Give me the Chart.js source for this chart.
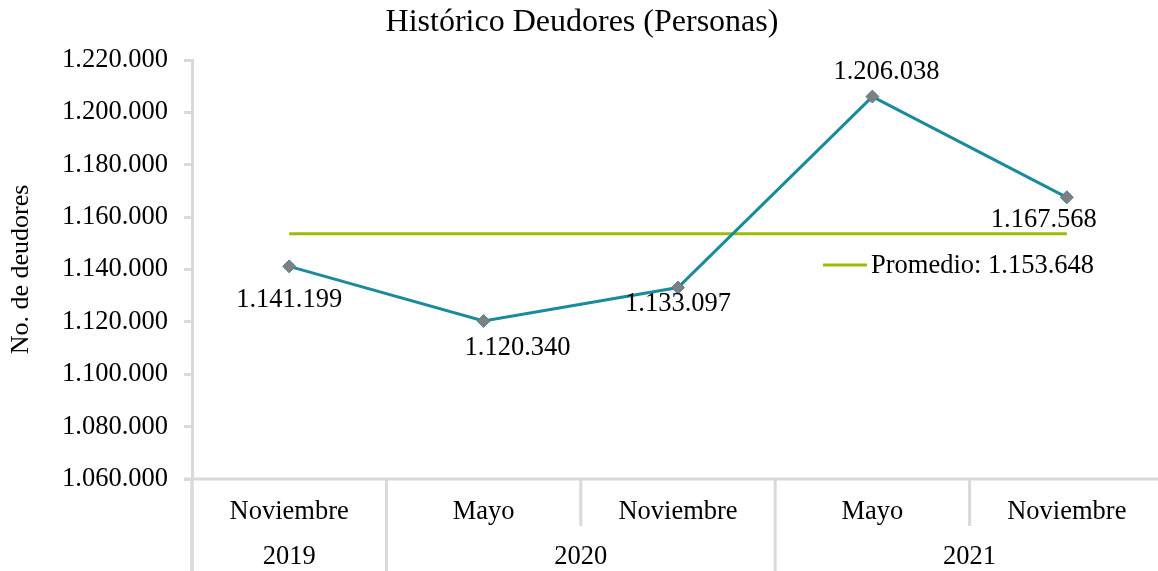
<!DOCTYPE html>
<html>
<head>
<meta charset="utf-8">
<script src="https://cdn.jsdelivr.net/npm/chart.js@4"></script>
<style>
  html, body { margin: 0; padding: 0; background: #fff; }
  #wrap { width: 1158px; height: 571px; }
</style>
</head>
<body>
<div id="wrap"><canvas id="c"></canvas></div>
<script>
// data
const months = ['Noviembre', 'Mayo', 'Noviembre', 'Mayo', 'Noviembre'];
const years = ['2019', '2020', '2021'];
const yearSpans = [1, 2, 2];
const deudores = [1141199, 1120340, 1133097, 1206038, 1167568];
const promedio = 1153648;
const promedioLine = deudores.map(() => promedio);

// label nudges (px) so the value labels sit where they do in the original
const labelOffsets = [[0, 34], [34, 27], [0, 16], [14, -25], [-23, 23]];

const FONT = '"Liberation Serif", "Times New Roman", serif';
const AXIS_GREY = '#d9d9d9';
const TITLE = 'Histórico Deudores (Personas)';
// the original plot runs a few px past the right edge of the image
const PLOT_RIGHT = 1164;

function fmt(v) {
  return String(Math.round(v)).replace(/\B(?=(\d{3})+(?!\d))/g, '.');
}

const widenPlot = {
  id: 'widenPlot',
  afterLayout(chart) {
    const x = chart.scales.x;
    x.right = PLOT_RIGHT;
    x.width = x.right - x.left;
    x.configure();
    chart.chartArea.right = PLOT_RIGHT;
    chart.chartArea.width = PLOT_RIGHT - chart.chartArea.left;
  }
};

const extras = {
  id: 'extras',
  afterDraw(chart) {
    const ctx = chart.ctx;
    const x = chart.scales.x;
    const area = chart.chartArea;
    const H = chart.height;
    ctx.save();

    // title
    ctx.fillStyle = '#000';
    ctx.textAlign = 'center';
    ctx.textBaseline = 'middle';
    ctx.font = '32px ' + FONT;
    ctx.fillText(TITLE, 582, 23);

    // y axis line continues down through the category rows
    ctx.strokeStyle = AXIS_GREY;
    ctx.lineWidth = 3;
    ctx.beginPath();
    ctx.moveTo(area.left, area.bottom);
    ctx.lineTo(area.left, H);
    ctx.stroke();

    // category axis: base line and separators
    ctx.beginPath();
    ctx.moveTo(area.left - 8, area.bottom);
    ctx.lineTo(area.right, area.bottom);
    ctx.stroke();

    const yearBounds = [0];
    yearSpans.reduce((acc, n) => { acc += n; yearBounds.push(acc); return acc; }, 0);
    for (let i = 0; i <= months.length; i++) {
      const px = x.getPixelForValue(i - 0.5);
      const full = yearBounds.includes(i);
      ctx.beginPath();
      ctx.moveTo(px, area.bottom);
      ctx.lineTo(px, full ? H : area.bottom + 47);
      ctx.stroke();
    }

    // labels
    ctx.font = '26.5px ' + FONT;
    months.forEach((m, i) => {
      ctx.fillText(m, x.getPixelForValue(i), area.bottom + 33);
    });
    let start = 0;
    years.forEach((y, i) => {
      const a = x.getPixelForValue(start - 0.5);
      const b = x.getPixelForValue(start + yearSpans[i] - 0.5);
      ctx.fillText(y, (a + b) / 2, area.bottom + 78);
      start += yearSpans[i];
    });

    // value labels
    const meta = chart.getDatasetMeta(0);
    meta.data.forEach((pt, i) => {
      const o = labelOffsets[i];
      ctx.fillText(fmt(deudores[i]), pt.x + o[0], pt.y + o[1]);
    });

    // legend inside plot
    ctx.strokeStyle = '#9bbb0b';
    ctx.lineWidth = 3;
    ctx.beginPath();
    ctx.moveTo(823, 265);
    ctx.lineTo(867, 265);
    ctx.stroke();
    ctx.textAlign = 'left';
    ctx.fillText('Promedio: ' + fmt(promedio), 871, 266);

    ctx.restore();
  }
};

new Chart(document.getElementById('c'), {
  type: 'line',
  data: {
    labels: months,
    datasets: [
      {
        label: 'Deudores',
        data: deudores,
        borderColor: '#1a8a9c',
        borderWidth: 3,
        tension: 0,
        pointStyle: 'rectRot',
        pointRadius: 6.5,
        pointBackgroundColor: '#7f7f7f',
        pointBorderColor: '#4a7fa5',
        pointBorderWidth: 1
      },
      {
        label: 'Promedio: ' + fmt(promedio),
        data: promedioLine,
        borderColor: '#9bbb0b',
        borderWidth: 3,
        pointRadius: 0,
        tension: 0
      }
    ]
  },
  options: {
    responsive: true,
    maintainAspectRatio: false,
    animation: false,
    layout: { padding: { top: 60, right: 0, left: 0, bottom: 0 } },
    plugins: {
      legend: { display: false },
      tooltip: { enabled: false },
      title: { display: false }
    },
    scales: {
      x: {
        type: 'category',
        offset: true,
        grid: { display: false },
        border: { display: false },
        ticks: { display: false },
        afterFit(s) { s.height = 92; }
      },
      y: {
        min: 1060000,
        max: 1220000,
        afterFit(s) { s.width = 192; },
        ticks: {
          stepSize: 20000,
          color: '#000',
          padding: 16,
          font: { family: FONT, size: 26.5 },
          callback: v => fmt(v)
        },
        grid: {
          drawOnChartArea: false,
          color: AXIS_GREY,
          lineWidth: 3,
          tickLength: 8
        },
        border: { color: AXIS_GREY, width: 3 },
        title: {
          display: true,
          text: 'No. de deudores',
          color: '#000',
          font: { family: FONT, size: 26 },
          padding: { top: 6, bottom: 0 }
        }
      }
    }
  },
  plugins: [widenPlot, extras]
});
</script>
</body>
</html>
